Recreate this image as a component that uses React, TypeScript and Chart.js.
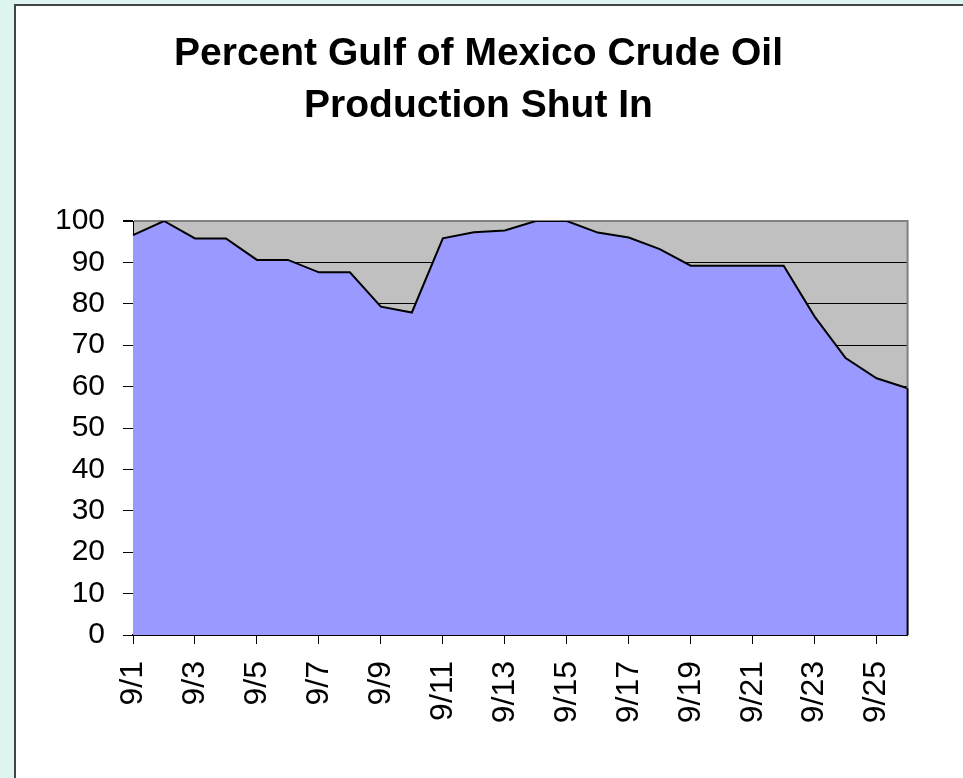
import React, { useEffect, useRef } from 'react';
import { Chart, registerables } from 'chart.js';

Chart.register(...registerables);

const categories = [
  '9/1', '9/2', '9/3', '9/4', '9/5', '9/6', '9/7', '9/8', '9/9', '9/10',
  '9/11', '9/12', '9/13', '9/14', '9/15', '9/16', '9/17', '9/18', '9/19', '9/20',
  '9/21', '9/22', '9/23', '9/24', '9/25', '9/26',
];

const shutInPercent = [
  96.6, 100, 95.8, 95.8, 90.6, 90.6, 87.6, 87.6, 79.3, 77.9,
  95.8, 97.3, 97.7, 100, 100, 97.2, 96.0, 93.2, 89.2, 89.2,
  89.2, 89.2, 76.9, 66.9, 62.0, 59.6,
];

const titleLines = ['Percent Gulf of Mexico Crude Oil', 'Production Shut In'];

const yMin = 0;
const yMax = 100;
const yStep = 10;

const FONT = "'Liberation Sans', Arial, Helvetica, sans-serif";

const plotFrame = {
  id: 'plotFrame',
  beforeDraw(chart: any) {
    const { ctx, chartArea } = chart;
    ctx.save();
    ctx.fillStyle = '#c0c0c0';
    ctx.fillRect(chartArea.left, chartArea.top, chartArea.right - chartArea.left, chartArea.bottom - chartArea.top);
    ctx.restore();
  },
  afterDatasetsDraw(chart: any) {
    const { ctx, chartArea } = chart;
    const meta = chart.getDatasetMeta(0);
    const last = meta.data[meta.data.length - 1];
    const x = chartArea.right;
    ctx.save();
    ctx.lineWidth = 2;
    ctx.strokeStyle = '#808080';
    ctx.beginPath();
    ctx.moveTo(x, chartArea.top - 1);
    ctx.lineTo(x, last.y);
    ctx.stroke();
    ctx.strokeStyle = '#000';
    ctx.beginPath();
    ctx.moveTo(x, last.y);
    ctx.lineTo(x, chartArea.bottom);
    ctx.stroke();
    ctx.restore();
  },
};

export default function App() {
  const canvasRef = useRef<HTMLCanvasElement | null>(null);

  useEffect(() => {
    if (!canvasRef.current) return;
    Chart.defaults.font.family = FONT;
    const chart = new Chart(canvasRef.current, {
      type: 'line',
      data: {
        labels: categories,
        datasets: [
          {
            data: shutInPercent,
            fill: 'origin',
            backgroundColor: '#9999ff',
            borderColor: '#000000',
            borderWidth: 2,
            pointRadius: 0,
            tension: 0,
          },
        ],
      },
      options: {
        responsive: false,
        animation: false,
        devicePixelRatio: 1,
        layout: { padding: { left: 46, right: 52, top: 0, bottom: 0 } },
        plugins: {
          legend: { display: false },
          tooltip: { enabled: false },
          title: {
            display: true,
            text: titleLines,
            color: '#000',
            font: { size: 39, weight: 'bold', family: FONT, lineHeight: 52 / 39 },
            padding: { top: 28, bottom: 89 },
          },
        },
        scales: {
          x: {
            type: 'category',
            offset: false,
            grid: {
              drawOnChartArea: false,
              drawTicks: true,
              tickLength: 9,
              color: (ctx: any) => (ctx.index % 2 === 0 ? '#000' : 'rgba(0,0,0,0)'),
              lineWidth: 1,
            },
            border: { display: true, color: '#000', width: 2 },
            ticks: {
              autoSkip: false,
              minRotation: 90,
              maxRotation: 90,
              padding: 17,
              color: '#000',
              font: { size: 32, family: FONT },
              callback: (_v: any, i: number) => (i % 2 === 0 ? categories[i] : ''),
            },
            afterFit: (s: any) => {
              s.height = 143;
            },
          },
          y: {
            min: yMin,
            max: yMax,
            ticks: {
              stepSize: yStep,
              padding: 18,
              color: '#000',
              font: { size: 30, family: FONT },
            },
            grid: {
              color: (ctx: any) => (ctx.tick && ctx.tick.value === yMax ? '#808080' : '#000'),
              lineWidth: (ctx: any) => (ctx.tick && ctx.tick.value === yMax ? 2 : 1),
              tickColor: '#000',
              tickLength: 10,
              drawTicks: true,
            },
            border: { display: true, color: '#000', width: 1 },
            afterFit: (s: any) => {
              s.width = 87;
            },
          },
        },
      },
      plugins: [plotFrame],
    } as any);
    return () => chart.destroy();
  }, []);

  return (
    <div style={{ position: 'fixed', left: 0, top: 0, width: 963, height: 778, background: '#ddf4f0', overflow: 'hidden' }}>
      <div
        style={{
          position: 'absolute',
          left: 14,
          top: 4,
          width: 1000,
          height: 1000,
          background: '#ffffff',
          borderLeft: '2px solid #444',
          borderTop: '2px solid #444',
        }}
      />
      <canvas
        ref={canvasRef}
        width={963}
        height={778}
        style={{ position: 'absolute', left: 0, top: 0, width: 963, height: 778 }}
      />
    </div>
  );
}
